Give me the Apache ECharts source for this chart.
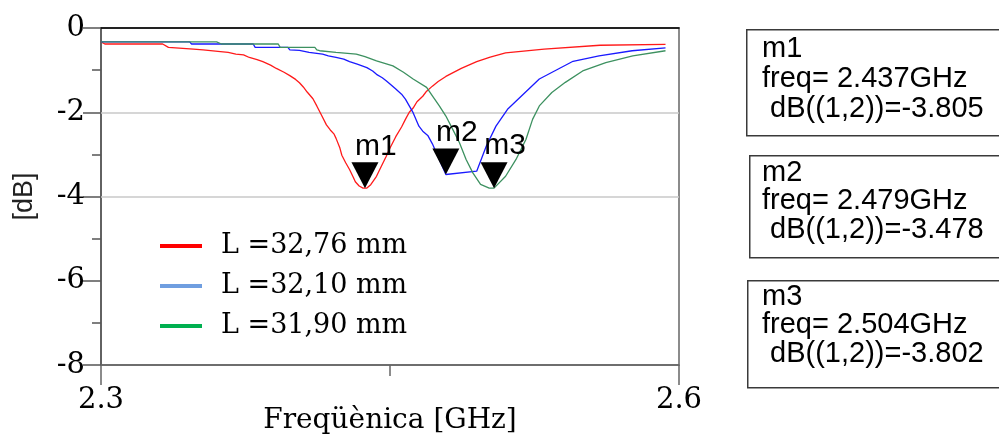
<!DOCTYPE html>
<html>
<head>
<meta charset="utf-8">
<script src="https://cdn.jsdelivr.net/npm/echarts@6/dist/echarts.min.js"></script>
<style>
  html, body { margin: 0; padding: 0; background: #fff; }
  #chart { width: 999px; height: 435px; }
</style>
</head>
<body>
<div id="chart"></div>
<script>
// S-parameter |S12| (dB) versus frequency for three line lengths
const seriesNames = ['L =32,76 mm', 'L =32,10 mm', 'L =31,90 mm'];

const redData = [
  [2.300,-0.33],[2.302,-0.38],[2.332,-0.38],[2.335,-0.46],[2.348,-0.50],[2.353,-0.52],
  [2.362,-0.56],[2.366,-0.58],[2.370,-0.62],[2.374,-0.64],[2.377,-0.70],[2.381,-0.75],
  [2.384,-0.80],[2.388,-0.88],[2.391,-0.96],[2.395,-1.05],[2.398,-1.13],[2.401,-1.22],
  [2.403,-1.30],[2.405,-1.40],[2.407,-1.52],[2.410,-1.68],[2.412,-1.85],[2.415,-2.12],
  [2.417,-2.30],[2.419,-2.42],[2.421,-2.52],[2.422,-2.62],[2.424,-2.85],[2.425,-3.02],
  [2.427,-3.20],[2.429,-3.36],[2.431,-3.55],[2.432,-3.65],[2.434,-3.75],[2.436,-3.80],
  [2.437,-3.805],[2.438,-3.80],[2.440,-3.72],[2.443,-3.52],[2.445,-3.33],[2.448,-3.05],
  [2.450,-2.85],[2.453,-2.58],[2.456,-2.35],[2.458,-2.17],[2.460,-2.00],[2.462,-1.90],
  [2.464,-1.75],[2.467,-1.62],[2.469,-1.50],[2.472,-1.38],[2.475,-1.27],[2.479,-1.15],
  [2.487,-0.96],[2.495,-0.80],[2.502,-0.69],[2.510,-0.59],[2.530,-0.50],[2.559,-0.41],
  [2.593,-0.39]
];

const blueData = [
  [2.300,-0.33],[2.346,-0.33],[2.347,-0.38],[2.379,-0.38],[2.380,-0.46],[2.397,-0.46],
  [2.398,-0.52],[2.403,-0.53],[2.408,-0.58],[2.415,-0.62],[2.418,-0.66],[2.422,-0.70],
  [2.426,-0.74],[2.429,-0.80],[2.433,-0.86],[2.438,-0.94],[2.441,-1.02],[2.443,-1.10],
  [2.446,-1.18],[2.448,-1.25],[2.450,-1.33],[2.453,-1.45],[2.456,-1.57],[2.458,-1.69],
  [2.460,-1.85],[2.462,-2.01],[2.465,-2.33],[2.467,-2.45],[2.4696,-2.55],[2.472,-2.75],
  [2.479,-3.478],[2.495,-3.40],[2.500,-2.80],[2.505,-2.33],[2.511,-1.93],[2.5275,-1.21],
  [2.545,-0.79],[2.5585,-0.66],[2.5757,-0.54],[2.593,-0.47]
];

const greenData = [
  [2.300,-0.33],[2.360,-0.33],[2.3625,-0.38],[2.392,-0.38],[2.393,-0.46],[2.411,-0.46],
  [2.412,-0.52],[2.4135,-0.54],[2.422,-0.58],[2.4325,-0.62],[2.437,-0.68],[2.443,-0.78],
  [2.4515,-0.90],[2.457,-1.05],[2.462,-1.21],[2.469,-1.41],[2.472,-1.61],[2.4756,-1.85],
  [2.479,-2.09],[2.4825,-2.40],[2.486,-2.72],[2.4895,-3.12],[2.493,-3.44],[2.497,-3.71],
  [2.5015,-3.80],[2.504,-3.802],[2.505,-3.79],[2.510,-3.52],[2.5154,-3.12],[2.5206,-2.64],
  [2.524,-2.17],[2.5275,-1.85],[2.534,-1.53],[2.541,-1.29],[2.550,-1.02],[2.562,-0.82],
  [2.576,-0.66],[2.593,-0.54]
];

// Markers m1..m3 (one per trace)
const markerNames = ['m1', 'm2', 'm3'];
const markerFreq = [2.437, 2.479, 2.504];
const markerDb = [-3.805, -3.478, -3.802];

// Axis ticks
const xLabelTicks = [2.3, 2.6];
const xMidTicks = [2.45];
const yGridLines = [-2, -4];

const lineColors = ['#ff1a1a', '#1a1aff', '#3d9160'];
const legendColors = ['#ff0000', '#6f9ee0', '#00b050'];
const allData = [redData, blueData, greenData];

const serif = 'DejaVu Serif';
const sans = 'Liberation Sans';

const series = allData.map((d, i) => ({
  name: seriesNames[i],
  type: 'line',
  data: d,
  showSymbol: false,
  symbol: 'none',
  lineStyle: { color: lineColors[i], width: 1.3 },
  itemStyle: { color: lineColors[i] },
  z: 3,
  markPoint: {
    silent: true,
    symbol: 'triangle',
    symbolRotate: 180,
    symbolSize: [27, 26],
    symbolOffset: [0, -13],
    itemStyle: { color: '#000' },
    label: {
      show: true,
      position: 'top',
      distance: 1,
      offset: [11, 0],
      formatter: '{b}',
      color: '#000',
      fontFamily: sans,
      fontSize: 30
    },
    data: [{ name: markerNames[i], coord: [markerFreq[i], markerDb[i]] }]
  },
  markLine: i === 0 ? {
    silent: true,
    symbol: 'none',
    label: { show: false },
    lineStyle: { color: '#c8c8c8', width: 1.5, type: 'solid' },
    data: yGridLines.map(v => ({ yAxis: v })),
    z: 1
  } : undefined
}));

const chart = echarts.init(document.getElementById('chart'), null, { renderer: 'canvas' });
chart.setOption({
  animation: false,
  backgroundColor: '#fff',
  grid: {
    left: 101, right: 320, top: 28, bottom: 70,
    outerBoundsMode: 'none',
    containLabel: false,
    show: true, borderColor: '#666', borderWidth: 1.5, backgroundColor: 'transparent'
  },
  legend: {
    orient: 'vertical',
    left: 155, top: 226,
    icon: 'rect',
    itemWidth: 42, itemHeight: 4,
    itemGap: 10,
    selectedMode: false,
    textStyle: {
      fontFamily: serif, fontSize: 27, color: '#000',
      lineHeight: 30, padding: [0, 0, 0, 14]
    },
    data: seriesNames.map((n, i) => ({ name: n, itemStyle: { color: legendColors[i] } }))
  },
  xAxis: [
    {
      type: 'value', min: 2.3, max: 2.6, position: 'bottom',
      name: 'Freqüènica [GHz]',
      nameLocation: 'middle', nameGap: 42,
      nameMoveOverlap: false,
      nameTextStyle: { fontFamily: serif, fontSize: 28, color: '#000' },
      axisLine: { show: true, onZero: false, lineStyle: { color: '#666', width: 1.5 } },
      axisTick: { show: true, inside: false, length: 20, customValues: xLabelTicks,
                  lineStyle: { color: '#666', width: 1.5 } },
      axisLabel: { show: true, customValues: xLabelTicks, margin: 21,
                   formatter: v => v.toFixed(1),
                   fontFamily: serif, fontSize: 29, color: '#000' },
      splitLine: { show: false }
    },
    {
      type: 'value', min: 2.3, max: 2.6, position: 'top',
      axisLine: { show: true, onZero: false, lineStyle: { color: '#000', width: 1.5 } },
      axisTick: { show: false },
      axisLabel: { show: false },
      splitLine: { show: false }
    }
  ],
  yAxis: {
    type: 'value', min: -8, max: 0, interval: 2,
    name: '[dB]',
    nameLocation: 'middle', nameGap: 63, nameRotate: 90,
    nameMoveOverlap: false,
    nameTextStyle: { fontFamily: sans, fontSize: 27, color: '#222' },
    axisLine: { show: true, onZero: false, lineStyle: { color: '#555', width: 1.5 } },
    axisTick: { show: true, length: 18, lineStyle: { color: '#555', width: 1.5 } },
    minorTick: { show: true, splitNumber: 2, length: 9, lineStyle: { color: '#555', width: 1.5 } },
    axisLabel: { margin: 16, fontFamily: serif, fontSize: 29, color: '#000' },
    splitLine: { show: false }
  },
  series: series
});

// Half-scale tick on the frequency axis and the marker readout boxes
const graphic = [];
xMidTicks.forEach(v => {
  const p = chart.convertToPixel({ xAxisIndex: 0, yAxisIndex: 0 }, [v, -8]);
  graphic.push({
    type: 'line',
    shape: { x1: p[0], y1: p[1], x2: p[0], y2: p[1] + 11 },
    style: { stroke: '#666', lineWidth: 1.5 },
    silent: true
  });
});

const boxTops = [29, 155, 280];
const boxLefts = [746, 749, 747];
const boxHeights = [106, 102, 107];
const textOffsets = [34, 32.5, 31.5];
const lineSteps = [30, 28.4, 28.4];
markerNames.forEach((m, i) => {
  const top = boxTops[i];
  graphic.push({
    type: 'rect',
    left: boxLefts[i], top: top,
    shape: { width: 300, height: boxHeights[i] },
    style: { fill: '#fff', stroke: '#3a3a3a', lineWidth: 1.5 },
    silent: true
  });
  const lines = [
    m,
    'freq= ' + markerFreq[i].toFixed(3) + 'GHz',
    ' dB((1,2))=' + markerDb[i].toFixed(3)
  ];
  lines.forEach((t, k) => {
    graphic.push({
      type: 'text',
      x: 762, y: top + textOffsets[i] + k * lineSteps[i],
      silent: true,
      style: {
        text: t,
        fill: '#000',
        font: '29px "' + sans + '"',
        verticalAlign: 'bottom'
      }
    });
  });
});
chart.setOption({ graphic: graphic });
</script>
</body>
</html>
